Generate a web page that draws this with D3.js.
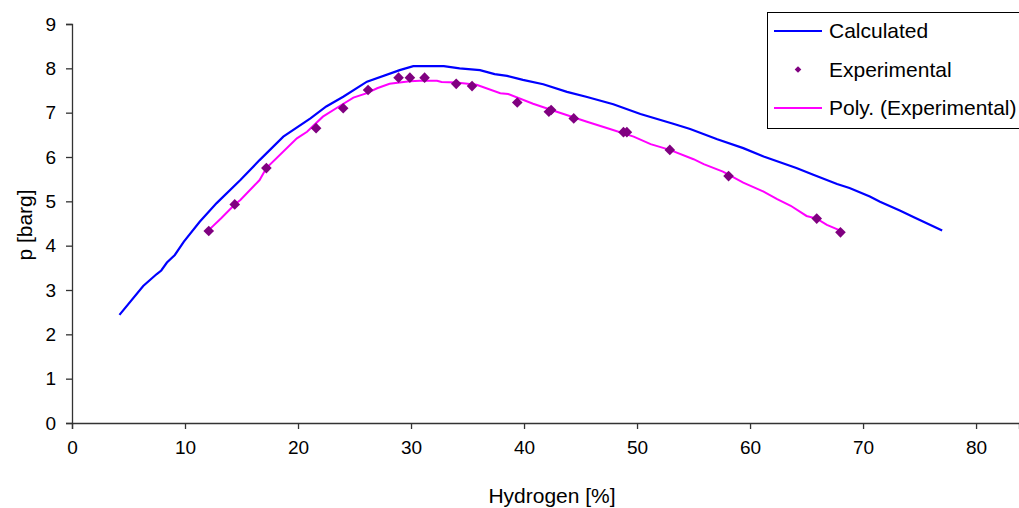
<!DOCTYPE html>
<html>
<head>
<meta charset="utf-8">
<script src="https://cdn.jsdelivr.net/npm/d3@7"></script>
<style>
  body { margin: 0; background: #fff; }
  text { font-family: 'Liberation Sans', Arial, sans-serif; fill: #000; }
</style>
</head>
<body>
<div id="chart"></div>
<script>
// calculated curve, [hydrogen %, p barg]
const calcH = [4.2, 6.3, 7.5, 7.9, 8.4, 9.1, 9.9, 11.3, 12.8, 14.9, 16.6, 18.7, 21.1, 22.5, 24.0, 26.1, 29.0, 30.2, 32.9, 34.3, 36.1, 37.4, 38.5, 39.9, 41.7, 43.8, 45.5, 47.9, 50.3, 53.2, 54.7, 57.1, 59.4, 61.2, 64.1, 65.6, 67.7, 68.8, 70.6, 71.5, 73.3, 74.5, 77.0]
const calcP = [2.44, 3.09, 3.36, 3.44, 3.62, 3.79, 4.09, 4.54, 4.96, 5.48, 5.93, 6.46, 6.87, 7.14, 7.36, 7.70, 7.96, 8.05, 8.05, 8.0, 7.96, 7.87, 7.83, 7.74, 7.64, 7.47, 7.36, 7.19, 6.97, 6.75, 6.63, 6.40, 6.20, 6.01, 5.75, 5.60, 5.39, 5.30, 5.11, 4.99, 4.79, 4.64, 4.34]

// experimental points
const expH = [12.1, 14.4, 17.2, 21.6, 24.0, 26.2, 28.9, 29.9, 31.2, 34.0, 35.4, 39.4, 42.2, 42.4, 44.4, 48.8, 49.1, 52.9, 58.1, 65.9, 68.0]
const expP = [4.33, 4.93, 5.75, 6.65, 7.10, 7.51, 7.79, 7.79, 7.79, 7.65, 7.60, 7.23, 7.02, 7.06, 6.87, 6.56, 6.56, 6.16, 5.57, 4.61, 4.30]

// poly trendline as drawn
const polyH = [12.1, 13.2, 14.4, 14.9, 16.6, 17.2, 19.9, 20.8, 22.2, 23.7, 24.9, 26.1, 27.0, 28.1, 29.9, 30.8, 32.3, 32.7, 34.0, 35.8, 37.9, 38.6, 40.8, 42.9, 45.5, 47.6, 49.7, 51.2, 52.9, 55.0, 55.9, 57.6, 59.4, 61.2, 62.4, 63.6, 65.0, 65.9, 66.8, 68.0]
const polyP = [4.35, 4.62, 4.93, 5.03, 5.48, 5.75, 6.42, 6.57, 6.91, 7.15, 7.34, 7.44, 7.55, 7.65, 7.71, 7.72, 7.72, 7.69, 7.68, 7.63, 7.44, 7.42, 7.20, 7.02, 6.80, 6.63, 6.46, 6.29, 6.16, 5.95, 5.84, 5.67, 5.42, 5.22, 5.05, 4.90, 4.67, 4.61, 4.47, 4.34]

const xTicks = [0, 10, 20, 30, 40, 50, 60, 70, 80]
const yTicks = [0, 1, 2, 3, 4, 5, 6, 7, 8, 9]

const seriesNames = ['Calculated', 'Experimental', 'Poly. (Experimental)']

const W = 1019
const H = 508
const margin = { top: 24, left: 72, right: 0, bottom: 85 }

const svg = d3
  .select('#chart')
  .append('svg')
  .attr('width', W)
  .attr('height', H)

const x = d3.scaleLinear().domain([0, 83.8]).range([margin.left, W - margin.right])
const y = d3.scaleLinear().domain([0, 9]).range([H - margin.bottom, margin.top])

const line = d3
  .line()
  .x(d => x(d[0]))
  .y(d => y(d[1]))

// axes
const xAxis = svg
  .append('g')
  .attr('transform', `translate(0,${y(0)})`)
  .call(d3.axisBottom(x).tickValues(xTicks).tickSizeOuter(0).tickSize(6).tickPadding(12))
const yAxis = svg
  .append('g')
  .attr('transform', `translate(${x(0)},0)`)
  .call(d3.axisLeft(y).tickValues(yTicks).tickSizeOuter(0).tickSize(6).tickPadding(10))

;[xAxis, yAxis].forEach(g => {
  g.select('.domain').attr('stroke', '#333').attr('stroke-width', 1.3)
  g.selectAll('.tick line').attr('stroke', '#333').attr('stroke-width', 1.3)
  g.selectAll('.tick text').style('font-size', '19px').attr('fill', '#000')
})

// calculated
svg
  .append('path')
  .datum(calcH.map((h, i) => [h, calcP[i]]))
  .attr('d', line)
  .attr('fill', 'none')
  .attr('stroke', '#0000ff')
  .attr('stroke-width', 2.2)

// poly trendline
svg
  .append('path')
  .datum(polyH.map((h, i) => [h, polyP[i]]))
  .attr('d', line)
  .attr('fill', 'none')
  .attr('stroke', '#ff00ff')
  .attr('stroke-width', 2)

// experimental points
const diamond = d3.symbol().type(d3.symbolDiamond2).size(72)
svg
  .selectAll('.exp')
  .data(expH.map((h, i) => [h, expP[i]]))
  .enter()
  .append('path')
  .attr('class', 'exp')
  .attr('transform', d => `translate(${x(d[0])},${y(d[1])})`)
  .attr('d', diamond)
  .attr('fill', '#800080')

// axis titles
svg
  .append('text')
  .text('Hydrogen [%]')
  .attr('x', 552)
  .attr('y', 503)
  .attr('text-anchor', 'middle')
  .style('font-size', '21px')

svg
  .append('text')
  .text('p [barg]')
  .attr('transform', 'translate(32,225) rotate(-90)')
  .attr('text-anchor', 'middle')
  .style('font-size', '21px')

// legend
const legend = svg.append('g')
legend
  .append('rect')
  .attr('x', 767.5)
  .attr('y', 12.5)
  .attr('width', 270)
  .attr('height', 116)
  .attr('fill', '#fff')
  .attr('stroke', '#000')
  .attr('stroke-width', 1)

const legRows = legend
  .selectAll('.leg')
  .data(seriesNames)
  .enter()
  .append('g')
  .attr('transform', (d, i) => `translate(0,${31 + i * 38.5})`)

legRows.each(function(d, i) {
  const g = d3.select(this)
  if (i === 1) {
    g.append('path')
      .attr('transform', 'translate(798,0)')
      .attr('d', d3.symbol().type(d3.symbolDiamond2).size(28))
      .attr('fill', '#800080')
  } else {
    g.append('line')
      .attr('x1', 774)
      .attr('x2', 822)
      .attr('stroke', i === 0 ? '#0000ff' : '#ff00ff')
      .attr('stroke-width', 2)
  }
  g.append('text')
    .text(d)
    .attr('x', 829)
    .attr('dy', '0.35em')
    .style('font-size', '21px')
})
</script>
</body>
</html>
